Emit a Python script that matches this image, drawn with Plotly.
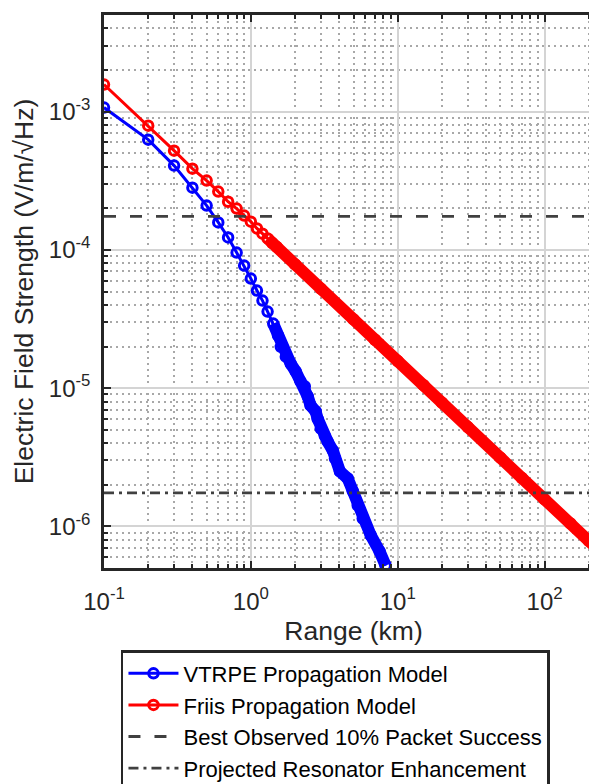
import plotly.graph_objects as go

# ---- data ----
range_vtrpe = [0.1, 0.2, 0.3, 0.4, 0.5, 0.6, 0.7, 0.8, 0.9, 1.0, 1.1, 1.2, 1.3, 1.42, 1.53,
               1.6, 1.73, 1.87, 2.02, 2.18, 2.33, 2.44, 2.55, 2.76, 2.85, 2.99, 3.19, 3.34,
               3.62, 3.74, 4.04, 4.57, 4.94, 5.34, 5.78, 6.56, 7.53, 8.28]
e_vtrpe = [1.07e-3, 6.27e-4, 4.07e-4, 2.82e-4, 2.09e-4, 1.58e-4, 1.23e-4, 9.56e-5, 7.7e-5,
           6.2e-5, 5.08e-5, 4.3e-5, 3.58e-5, 2.93e-5, 2.41e-5, 1.99e-5, 1.69e-5, 1.50e-5,
           1.32e-5, 1.12e-5, 1.03e-5, 8.7e-6, 7.5e-6, 6.8e-6, 6.0e-6, 5.1e-6, 4.5e-6, 4.1e-6,
           3.53e-6, 3.1e-6, 2.5e-6, 2.22e-6, 1.8e-6, 1.42e-6, 1.14e-6, 8.6e-7, 6.6e-7, 5.2e-7]

range_friis = [0.1, 0.2, 0.3, 0.4, 0.5, 0.6, 0.7, 0.8, 0.9, 1.0, 1.1, 1.2, 1.3, 1.4, 1.5,
               2, 3, 5, 7, 10, 15, 20, 30, 50, 70, 100, 150, 200, 250]
e_friis = [1.57e-3, 7.92e-4, 5.22e-4, 3.87e-4, 3.17e-4, 2.64e-4, 2.23e-4, 1.99e-4, 1.77e-4,
           1.60e-4, 1.43e-4, 1.31e-4, 1.21e-4, 1.12e-4, 1.05e-4, 7.85e-5, 5.23e-5, 3.14e-5,
           2.24e-5, 1.57e-5, 1.05e-5, 7.85e-6, 5.23e-6, 3.14e-6, 2.24e-6, 1.57e-6, 1.05e-6,
           7.85e-7, 6.28e-7]

best_observed = 1.75e-4
projected = 1.75e-6
threshold_range = [0.1, 250]

x_tickvals = [0.1, 1, 10, 100]
x_ticktext = ["10<sup>-1</sup>", "10<sup>0</sup>", "10<sup>1</sup>", "10<sup>2</sup>"]
y_tickvals = [1e-6, 1e-5, 1e-4, 1e-3]
y_ticktext = ["10<sup>-6</sup>", "10<sup>-5</sup>", "10<sup>-4</sup>", "10<sup>-3</sup>"]
x_minor = [m * d for d in (0.1, 1, 10) for m in range(2, 10)] + [200]
y_minor = [m * 1e-7 for m in range(6, 10)] + [m * d for d in (1e-6, 1e-5, 1e-4) for m in range(2, 10)] + [2e-3, 3e-3, 4e-3]

BLUE = "#0000ff"
RED = "#ff0000"
GRAY = "#404040"
FONT = "Liberation Sans, Arial, Helvetica, sans-serif"

band_start_v = 13   # dense part of the VTRPE series
band_start_f = 12   # dense part of the Friis series

fig = go.Figure()

# dense overlapping marker bands
fig.add_trace(go.Scatter(x=range_vtrpe[band_start_v:], y=e_vtrpe[band_start_v:], mode="lines",
                         line=dict(color=BLUE, width=12), showlegend=False, hoverinfo="skip"))
fig.add_trace(go.Scatter(x=range_friis[band_start_f:], y=e_friis[band_start_f:], mode="lines",
                         line=dict(color=RED, width=12), showlegend=False, hoverinfo="skip"))

fig.add_trace(go.Scatter(x=range_vtrpe, y=e_vtrpe, mode="lines+markers",
                         name="VTRPE Propagation Model",
                         line=dict(color=BLUE, width=3),
                         marker=dict(symbol="circle-open", size=9.5, color=BLUE,
                                     line=dict(width=3, color=BLUE))))
fig.add_trace(go.Scatter(x=range_friis, y=e_friis, mode="lines+markers",
                         name="Friis Propagation Model",
                         line=dict(color=RED, width=3),
                         marker=dict(symbol="circle-open", size=9.5, color=RED,
                                     line=dict(width=3, color=RED))))
fig.add_trace(go.Scatter(x=threshold_range, y=[best_observed, best_observed], mode="lines",
                         name="Best Observed 10% Packet Success",
                         line=dict(color=GRAY, width=2.8, dash="12px,14px")))
fig.add_trace(go.Scatter(x=threshold_range, y=[projected, projected], mode="lines",
                         name="Projected Resonator Enhancement",
                         line=dict(color=GRAY, width=2.8, dash="10px,5px,3px,5px")))

axis_common = dict(
    showline=True, linecolor="#262626", linewidth=2.5, mirror="allticks",
    ticks="inside", ticklen=7, tickwidth=2, tickcolor="#262626",
    showgrid=True, gridcolor="#d4d4d4", gridwidth=1.5,
    tickfont=dict(family=FONT, size=24, color="#262626"),
    zeroline=False,
)

fig.update_xaxes(type="log", range=[-1, 2.39794], tickmode="array",
                 tickvals=x_tickvals, ticktext=x_ticktext,
                 title=dict(text="Range (km)", font=dict(family=FONT, size=26.5, color="#262626"),
                            standoff=8),
                 ticklabelstandoff=10,
                 minor=dict(tickmode="array", tickvals=x_minor, ticks="inside", ticklen=4,
                            tickwidth=2, tickcolor="#262626", showgrid=True,
                            gridcolor="#a8a8a8", gridwidth=1.5, griddash="2px,4px"),
                 **axis_common)
fig.update_yaxes(type="log", range=[-6.30103, -2.30103], tickmode="array",
                 tickvals=y_tickvals, ticktext=y_ticktext,
                 title=dict(text="Electric Field Strength (V/m/√Hz)",
                            font=dict(family=FONT, size=26.5, color="#262626"), standoff=8),
                 ticklabelstandoff=6,
                 minor=dict(tickmode="array", tickvals=y_minor, ticks="inside", ticklen=4,
                            tickwidth=2, tickcolor="#262626", showgrid=True,
                            gridcolor="#a8a8a8", gridwidth=1.5, griddash="2px,4px"),
                 **axis_common)

fig.update_layout(
    width=597, height=784,
    margin=dict(l=96, r=2, t=7, b=224, autoexpand=False),
    paper_bgcolor="white", plot_bgcolor="white",
    font=dict(family=FONT, color="#262626"),
    showlegend=True,
    legend=dict(x=0.034, y=-0.1483, xanchor="left", yanchor="top",
                bordercolor="#262626", borderwidth=2.5, bgcolor="white",
                font=dict(family=FONT, size=22, color="#000000"),
                itemwidth=50, tracegroupgap=0),
)

fig.write_html("out.html")
